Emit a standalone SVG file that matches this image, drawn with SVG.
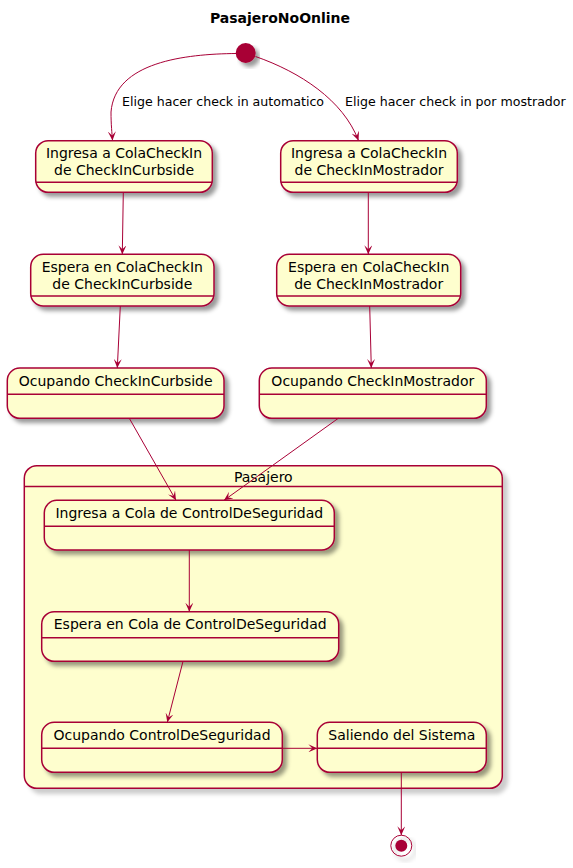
<svg xmlns="http://www.w3.org/2000/svg" width="573" height="868" viewBox="0 0 573 868">
<defs>
<filter id="sh" x="-10%" y="-10%" width="130%" height="140%">
<feGaussianBlur in="SourceAlpha" stdDeviation="2"/>
<feColorMatrix type="matrix" values="0 0 0 0 0 0 0 0 0 0 0 0 0 0 0 0 0 0 .4 0"/>
<feOffset dx="4" dy="4" result="s"/>
<feBlend in="SourceGraphic" in2="s" mode="normal"/>
</filter>
<filter id="shc" x="-5%" y="-5%" width="115%" height="115%">
<feGaussianBlur in="SourceAlpha" stdDeviation="2"/>
<feColorMatrix type="matrix" values="0 0 0 0 0 0 0 0 0 0 0 0 0 0 0 0 0 0 .2 0"/>
<feOffset dx="5" dy="5" result="s"/>
<feBlend in="SourceGraphic" in2="s" mode="normal"/>
</filter>
<marker id="ah" viewBox="0 0 9 8" refX="9" refY="4" markerWidth="9" markerHeight="8" markerUnits="userSpaceOnUse" orient="auto">
<path d="M0,0 L9,4 L0,8 L4,4 Z" fill="#A80036"/>
</marker>
</defs>
<style>
.st{fill:#FEFECE;stroke:#A80036;stroke-width:1.5}
.dv{stroke:#A80036;stroke-width:1.5}
.t{font-family:"DejaVu Sans",Verdana,sans-serif;font-size:14px;fill:#000;text-anchor:middle}
.lb{font-family:"DejaVu Sans",Verdana,sans-serif;font-size:12.6px;fill:#000}
.title{font-family:"DejaVu Sans",Verdana,sans-serif;font-size:14px;font-weight:bold;fill:#000;text-anchor:middle}
.cn{fill:none;stroke:#A80036;stroke-width:1;marker-end:url(#ah)}
</style>
<rect width="573" height="868" fill="#FFFFFF"/>
<text class="title" x="280" y="23">PasajeroNoOnline</text>

<g id="Pasajero">
<rect class="st" x="24.3" y="465.7" width="478" height="322.6" rx="12.5" filter="url(#shc)"/>
<line class="dv" x1="24.3" y1="486.5" x2="502.3" y2="486.5"/>
<text class="t" x="263.3" y="481.7">Pasajero</text>
</g>

<g id="start">
<circle cx="245.7" cy="53" r="10" fill="#A80036" filter="url(#sh)"/>
</g>

<g id="IngresaCurbside">
<rect class="st" x="35.7" y="140.7" width="176.6" height="51.6" rx="12.5" filter="url(#sh)"/>
<line class="dv" x1="35.7" y1="182.3" x2="212.3" y2="182.3"/>
<text class="t" x="124" y="158.3">Ingresa a ColaCheckIn</text>
<text class="t" x="124" y="175">de CheckInCurbside</text>
</g>

<g id="IngresaMostrador">
<rect class="st" x="280.7" y="140.7" width="176.6" height="51.6" rx="12.5" filter="url(#sh)"/>
<line class="dv" x1="280.7" y1="182.3" x2="457.3" y2="182.3"/>
<text class="t" x="369" y="158.3">Ingresa a ColaCheckIn</text>
<text class="t" x="369" y="175">de CheckInMostrador</text>
</g>

<g id="EsperaCurbside">
<rect class="st" x="30.7" y="254.3" width="183.3" height="51.7" rx="12.5" filter="url(#sh)"/>
<line class="dv" x1="30.7" y1="296" x2="214" y2="296"/>
<text class="t" x="122.3" y="272">Espera en ColaCheckIn</text>
<text class="t" x="122.3" y="288.7">de CheckInCurbside</text>
</g>

<g id="EsperaMostrador">
<rect class="st" x="276.7" y="254.3" width="184" height="51.7" rx="12.5" filter="url(#sh)"/>
<line class="dv" x1="276.7" y1="296" x2="460.7" y2="296"/>
<text class="t" x="368.7" y="272">Espera en ColaCheckIn</text>
<text class="t" x="368.7" y="288.7">de CheckInMostrador</text>
</g>

<g id="OcupandoCurbside">
<rect class="st" x="7.3" y="368" width="216.7" height="50.3" rx="12.5" filter="url(#sh)"/>
<line class="dv" x1="7.3" y1="394.3" x2="224" y2="394.3"/>
<text class="t" x="115.7" y="386">Ocupando CheckInCurbside</text>
</g>

<g id="OcupandoMostrador">
<rect class="st" x="259.3" y="368" width="227" height="50.3" rx="12.5" filter="url(#sh)"/>
<line class="dv" x1="259.3" y1="394.3" x2="486.3" y2="394.3"/>
<text class="t" x="372.8" y="386">Ocupando CheckInMostrador</text>
</g>

<g id="IngresaControl">
<rect class="st" x="44.3" y="500.3" width="290" height="49.7" rx="12.5" filter="url(#sh)"/>
<line class="dv" x1="44.3" y1="526.3" x2="334.3" y2="526.3"/>
<text class="t" x="189.3" y="517.7">Ingresa a Cola de ControlDeSeguridad</text>
</g>

<g id="EsperaControl">
<rect class="st" x="41.7" y="611.7" width="297" height="49.6" rx="12.5" filter="url(#sh)"/>
<line class="dv" x1="41.7" y1="637.7" x2="338.7" y2="637.7"/>
<text class="t" x="190.2" y="629">Espera en Cola de ControlDeSeguridad</text>
</g>

<g id="OcupandoControl">
<rect class="st" x="41.7" y="722.3" width="240.6" height="50" rx="12.5" filter="url(#sh)"/>
<line class="dv" x1="41.7" y1="748.3" x2="282.3" y2="748.3"/>
<text class="t" x="162" y="740">Ocupando ControlDeSeguridad</text>
</g>

<g id="Saliendo">
<rect class="st" x="317.3" y="722.3" width="169" height="50" rx="12.5" filter="url(#sh)"/>
<line class="dv" x1="317.3" y1="748.3" x2="486.3" y2="748.3"/>
<text class="t" x="401.8" y="740">Saliendo del Sistema</text>
</g>

<g id="end">
<circle cx="401.3" cy="845.7" r="10.5" fill="none" stroke="#A80036" stroke-width="1" filter="url(#sh)"/>
<circle cx="401.3" cy="845.7" r="6" fill="#A80036"/>
</g>

<g id="connectors">
<path class="cn" d="M236,53.5 C185,54 115,62 111,112 C111,125 112,133 112.5,140.5"/>
<path class="cn" d="M255.5,56.5 C300,72 343,100 358.5,140.5"/>
<path class="cn" d="M123.3,192.3 L122.3,254.3"/>
<path class="cn" d="M368.3,192.3 L368.3,254.3"/>
<path class="cn" d="M120.3,306 L117.3,368"/>
<path class="cn" d="M369.7,306 L371.3,368"/>
<path class="cn" d="M129.3,418.3 L176,500.3"/>
<path class="cn" d="M338.3,418.3 L224,500.3"/>
<path class="cn" d="M189.3,550 L189.3,611.7"/>
<path class="cn" d="M183,661.3 L167.3,722.3"/>
<path class="cn" d="M282.3,748.3 L317.3,748.3"/>
<path class="cn" d="M401.3,772.3 L401.3,835.2"/>
</g>
<text class="lb" x="122" y="106">Elige hacer check in automatico</text>
<text class="lb" x="345" y="106">Elige hacer check in por mostrador</text>
</svg>
